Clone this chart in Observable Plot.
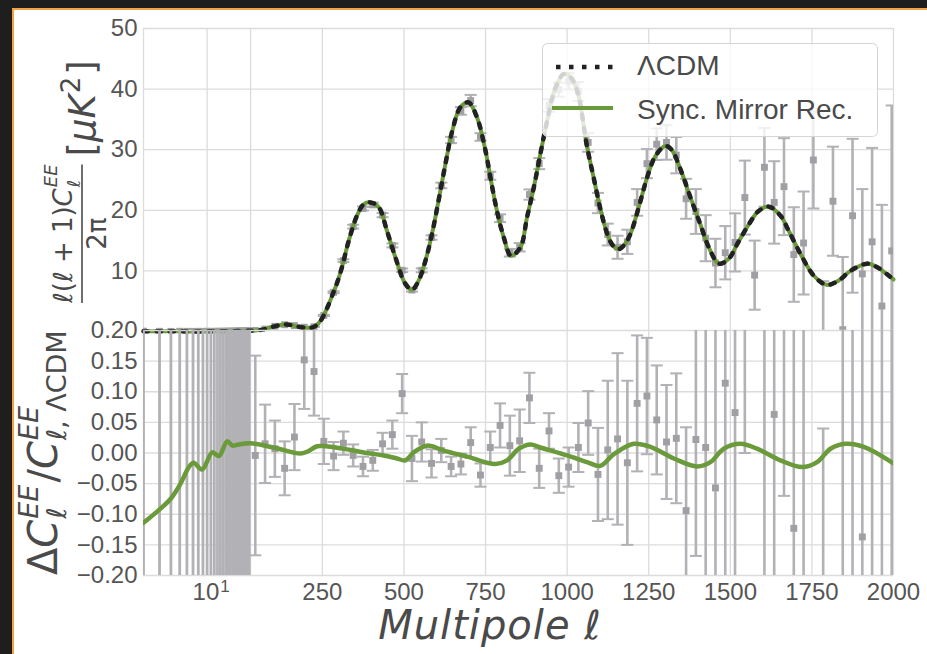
<!DOCTYPE html>
<html><head><meta charset="utf-8">
<script src="https://cdn.jsdelivr.net/npm/d3@7"></script>
<script src="https://cdn.jsdelivr.net/npm/@observablehq/plot@0.6"></script>
<style>
html,body{margin:0;padding:0;background:#1e1e1e;}
#page{position:relative;width:927px;height:654px;overflow:hidden;background:#1e1e1e;}
#card{position:absolute;left:12px;top:8px;right:0;bottom:0;background:#fff;border-left:2px solid #f2a444;border-top:2px solid #f2a444;}
.layer{position:absolute;left:0;}
#labels,#legend{position:absolute;overflow:visible;}
</style></head><body>
<div id="page">
<div id="card"></div>
<div id="topPanel" class="layer" style="top:0px"></div>
<div id="botPanel" class="layer" style="top:310px"></div>
<svg id="labels" width="927" height="654" style="left:0;top:0"></svg>
<svg id="legend" width="340" height="100" style="left:542px;top:43px"></svg>
</div>
<script>
// ---------------- data ----------------
// model curves (top panel): multipole and D_ell [muK^2]
const curveEll = [2,3,4,5,6,8,10,13,16,20,25,30,50,70,100,130,150,175,200,215,230,245,264,285,295,310,331,356,377,397,423,448,474,504,525,545,566,586,606,627,648,673,698,724,750,765,785,806,828,857,877,898,918,939,964,990,1010,1031,1061,1082,1102,1123,1140,1158,1175,1194,1225,1245,1271,1301,1320,1347,1378,1408,1434,1465,1495,1521,1557,1587,1618,1654,1679,1715,1756,1795,1832,1868,1919,1950,1986,2000];
const lcdmD = [0.04,0.04,0.03,0.03,0.02,0.02,0.02,0.03,0.04,0.06,0.09,0.12,0.2,0.35,0.8,1.15,1.1,0.8,0.6,0.6,0.95,1.8,3.8,6.6,8.0,10.6,15.0,19.1,21.0,21.3,20.5,16.6,12.2,7.9,6.9,8.4,11.7,16.1,21.6,27.6,33.1,37.0,37.8,35.3,29.8,25.4,19.9,15.5,12.5,13.9,18.8,23.8,29.3,34.8,40.2,42.5,42.0,39.7,30.5,25.2,20.2,16.1,14.2,13.6,14.3,16.1,21.6,25.4,29.0,30.6,30.0,26.8,22.1,17.7,13.9,11.2,12.0,14.4,17.7,19.9,20.6,19.1,16.6,12.8,9.2,7.7,8.4,10.0,11.2,10.6,9.2,8.6];
const mirrorD = [0.04,0.04,0.03,0.03,0.02,0.02,0.02,0.03,0.04,0.06,0.09,0.12,0.2,0.35,0.8,1.15,1.1,0.8,0.6,0.6,0.95,1.8,3.8,6.6,8.0,10.6,15.0,19.1,21.0,21.3,20.5,16.6,12.2,7.9,6.9,8.4,11.7,16.1,21.6,27.6,33.1,37.0,37.8,35.3,29.8,25.4,19.9,15.5,12.5,13.9,18.8,23.8,29.3,34.8,40.2,42.5,42.0,39.7,30.5,25.2,20.2,16.1,14.2,13.6,14.3,16.1,21.6,25.4,29.0,30.6,30.0,26.8,22.1,17.7,13.9,11.2,12.0,14.4,17.7,19.9,20.6,19.1,16.6,12.8,9.2,7.7,8.4,10.0,11.2,10.6,9.2,8.6];
// fractional difference of the mirror model (bottom panel)
const resEll = [2,2.9,3.96,5.1,6.3,7.1,8.8,11.4,13.5,16.6,19,21,25,30,100,183,203,234,259,315,387,438,479,504,530,571,622,694,780,816,852,888,918,1000,1061,1102,1143,1204,1255,1327,1398,1439,1480,1531,1582,1654,1720,1766,1807,1853,1909,2000];
const mirrorRes = [-0.114,-0.094,-0.075,-0.050,-0.023,-0.016,-0.027,0.001,-0.005,0.019,0.012,0.013,0.015,0.016,0.009,-0.001,0.002,0.011,0.011,0.007,0.0,-0.004,-0.009,-0.012,0.001,0.012,0.004,-0.006,-0.018,-0.012,0.007,0.014,0.009,-0.004,-0.015,-0.021,-0.002,0.015,0.010,-0.009,-0.022,-0.015,0.007,0.015,0.007,-0.012,-0.023,-0.015,0.007,0.015,0.010,-0.017];
// low-ell unbinned data points
const lowEll = [2,3,4,5,6,7,8,9,10,11,12,13,14,15,16,17,18,19,20,21,22,23,24,25,26,27,28,29];
const lowD = [0.05,0.03,0.02,0.04,0.03,0.02,0.03,0.02,0.04,0.03,0.02,0.05,0.03,0.04,0.06,0.05,0.04,0.07,0.06,0.08,0.07,0.09,0.08,0.10,0.09,0.11,0.10,0.12];
const lowDerr = [0.05,0.05,0.04,0.04,0.04,0.04,0.04,0.04,0.04,0.04,0.04,0.04,0.04,0.04,0.04,0.04,0.04,0.04,0.04,0.04,0.04,0.04,0.04,0.04,0.04,0.04,0.04,0.04];
const lowRes = [0.4,-0.3,0.6,-0.5,0.3,-0.4,0.5,-0.3,0.3,0.4,-0.35,0.3,-0.3,0.35,0.45,-0.3,0.3,0.25,-0.25,0.3,-0.3,0.35,0.25,-0.25,0.3,-0.28,0.26,0.3];
const lowResErr = [2.0,1.8,1.6,1.5,1.4,1.3,1.2,1.1,1.0,1.0,0.9,0.9,0.9,0.8,0.8,0.8,0.8,0.7,0.7,0.7,0.7,0.7,0.6,0.6,0.6,0.6,0.6,0.6];
// binned data points
const binEll = [44.5,74.5,104.5,134.5,164.5,194.5,224.5,254.5,284.5,314.5,344.5,374.5,404.5,434.5,464.5,494.5,524.5,554.5,584.5,614.5,644.5,674.5,704.5,734.5,764.5,794.5,824.5,854.5,884.5,914.5,944.5,974.5,1004.5,1034.5,1064.5,1094.5,1124.5,1154.5,1184.5,1214.5,1244.5,1274.5,1304.5,1334.5,1364.5,1394.5,1424.5,1454.5,1484.5,1514.5,1544.5,1574.5,1604.5,1634.5,1664.5,1694.5,1724.5,1754.5,1784.5,1814.5,1844.5,1874.5,1904.5,1934.5,1964.5,1994.5];
const binD = [0.18,0.40,0.86,1.12,0.97,0.71,0.79,2.65,6.47,11.7,17.3,20.3,20.9,19.2,14.2,10.1,6.84,10.1,15.5,24.1,31.6,36.4,38.1,32.1,25.7,18.7,13.0,13.9,22.6,27.7,37.3,39.9,41.3,39.6,31.2,21.2,16.0,13.9,14.8,21.3,27.7,30.9,31.2,29.1,21.9,19.8,15.4,11.3,13.0,14.7,22.1,9.3,27.1,21.3,23.9,12.7,14.6,28.3,-2.0,21.5,0.3,19.1,9.5,14.8,4.2,13.3];
const binDerr = [0.03,0.03,0.04,0.05,0.05,0.05,0.05,0.10,0.15,0.22,0.31,0.33,0.36,0.34,0.32,0.29,0.26,0.32,0.36,0.46,0.52,0.63,0.94,0.63,0.66,0.64,0.63,0.69,0.85,0.91,1.04,1.16,1.35,1.57,1.54,1.67,1.8,1.9,2.0,2.2,2.4,2.6,2.85,3.0,3.3,3.7,3.8,4.0,4.4,4.8,6.1,5.7,6.5,6.8,8.0,7.8,8.5,8.0,10.3,9.0,12.0,12.7,14.0,15.5,16.7,24.0];
const binRes = [-0.004,0.015,0.007,-0.025,0.026,0.152,0.133,0.019,-0.005,0.016,-0.004,-0.022,-0.012,0.015,0.030,0.097,-0.009,0.018,-0.017,0.004,-0.022,-0.018,0.017,-0.036,0.009,0.045,0.012,0.020,0.090,-0.025,0.036,-0.037,-0.023,0.009,0.049,-0.035,0.005,0.023,-0.016,0.081,0.093,0.054,0.018,0.024,-0.094,0.022,0.009,-0.057,0.114,0.066,0.34,-0.52,0.33,0.063,0.33,-0.123,0.22,2.1,-1.25,1.6,-0.97,0.95,-0.137,0.33,-0.59,0.48];
const binResErr = [0.163,0.064,0.046,0.044,0.054,0.08,0.072,0.037,0.023,0.019,0.018,0.016,0.017,0.018,0.023,0.032,0.037,0.032,0.023,0.019,0.016,0.017,0.025,0.019,0.026,0.036,0.049,0.051,0.041,0.032,0.029,0.028,0.032,0.040,0.052,0.076,0.113,0.140,0.134,0.111,0.095,0.089,0.093,0.106,0.136,0.19,0.25,0.33,0.38,0.35,0.34,0.29,0.6,0.34,0.40,0.53,0.7,0.87,1.29,1.1,1.38,1.3,1.26,1.4,1.6,2.7];
// ticks
const xTicks = [10,250,500,750,1000,1250,1500,1750,2000];
const yTicksTop = [10,20,30,40,50];
const yTicksBot = [-0.20,-0.15,-0.10,-0.05,0.00,0.05,0.10,0.15,0.20];
const xEdges = [2,30];

(function(){
// ---------------- build tables ----------------
const curve = curveEll.map((l,i)=>({ell:l, lcdm:lcdmD[i], mirror:mirrorD[i]}));
const resCurve = resEll.map((l,i)=>({ell:l, r:mirrorRes[i]}));
const bins = binEll.map((l,i)=>({ell:l, D:binD[i], e:binDerr[i], r:binRes[i], re:binResErr[i]}));
const lows = lowEll.map((l,i)=>({ell:l, D:lowD[i], e:lowDerr[i], r:lowRes[i], re:lowResErr[i]}));

// hybrid x scale: log for ell<30, linear beyond
const K = 328 / Math.log10(15);
const hx = l => l >= 30 ? l : 30 - (Math.log10(30) - Math.log10(l)) * K;

const capSymbol = {draw(ctx, size){ const w = Math.sqrt(size/Math.PI); ctx.moveTo(-w,0); ctx.lineTo(w,0); }};
const GRID = "#dcdcdc", BAR = "#b2b2b6", SQ = "#a0a0a4", GREEN = "#6a9a3a";
const font = "'Liberation Sans', Arial, sans-serif";
const common = {width:927, marginLeft:143, marginRight:34,
  style:{background:"transparent", overflow:"visible", fontFamily:font, fontSize:"24px", color:"#555"}};

function errMarks(data, yv, ev, clip) {
  return [
    Plot.ruleX(data, {x:"ell", y1:d=>d[yv]-d[ev], y2:d=>d[yv]+d[ev], stroke:BAR, strokeWidth:2.6, clip}),
    Plot.dot(data, {x:"ell", y:d=>d[yv]-d[ev], symbol:capSymbol, r:6, stroke:BAR, strokeWidth:2, fill:"none", clip}),
    Plot.dot(data, {x:"ell", y:d=>d[yv]+d[ev], symbol:capSymbol, r:6, stroke:BAR, strokeWidth:2, fill:"none", clip}),
    Plot.dot(data, {x:"ell", y:yv, symbol:"square", r:3.9, fill:SQ, stroke:"none", clip})
  ];
}

const topPlot = Plot.plot({...common, height:335, marginTop:28, marginBottom:4,
  x:{type:"linear", transform:hx, axis:null},
  y:{domain:[0,50], axis:null},
  marks:[
    Plot.gridX(xTicks, {stroke:GRID, strokeOpacity:1, strokeWidth:1.3}),
    Plot.gridY(yTicksTop, {stroke:GRID, strokeOpacity:1, strokeWidth:1.3}),
    Plot.ruleX(xEdges, {stroke:GRID, strokeWidth:1.3}),
    Plot.axisY(yTicksTop, {anchor:"left", tickSize:0, tickPadding:6, fontSize:24, label:null}),
    ...errMarks(lows, "D", "e", true),
    ...errMarks(bins, "D", "e", true),
    Plot.line(curve, {x:"ell", y:"mirror", stroke:GREEN, strokeWidth:4, curve:"catmull-rom"}),
    Plot.line(curve, {x:"ell", y:"lcdm", stroke:"#222", strokeWidth:4.5, strokeDasharray:"4.5,8.5", curve:"catmull-rom"})
  ]});
document.getElementById("topPanel").appendChild(topPlot);

const fmtY = d => d.toFixed(2).replace("-", "\u2212");
const botPlot = Plot.plot({...common, height:344, marginTop:20, marginBottom:79,
  x:{type:"linear", transform:hx, axis:null},
  y:{domain:[-0.2,0.2], axis:null},
  marks:[
    Plot.gridX(xTicks, {stroke:GRID, strokeOpacity:1, strokeWidth:1.3}),
    Plot.gridY(yTicksBot, {stroke:GRID, strokeOpacity:1, strokeWidth:1.3}),
    Plot.ruleX(xEdges, {stroke:GRID, strokeWidth:1.3}),
    Plot.ruleX(lows, {x:"ell", y1:d=>d.r-d.re, y2:d=>d.r+d.re, stroke:BAR, strokeWidth:2.8, clip:true}),
    ...errMarks(bins, "r", "re", true),
    Plot.line(resCurve, {x:"ell", y:"r", stroke:GREEN, strokeWidth:4.5, curve:"catmull-rom", clip:true}),
    Plot.axisY(yTicksBot, {anchor:"left", tickSize:0, tickPadding:6, fontSize:24, tickFormat:fmtY, label:null}),
    Plot.axisX(xTicks, {anchor:"bottom", tickSize:0, tickPadding:7, fontSize:24, tickFormat:d => d === 10 ? "10^1" : String(d), label:null})
  ]});
document.getElementById("botPanel").appendChild(botPlot);
// typeset the 10^1 tick as a real superscript
for (const t of botPlot.querySelectorAll("text")) {
  if (t.textContent === "10^1") {
    t.textContent = "10";
    const sp = document.createElementNS("http://www.w3.org/2000/svg", "tspan");
    sp.setAttribute("font-size", 17); sp.setAttribute("dy", "-0.45em"); sp.setAttribute("dx", "1");
    sp.textContent = "1"; t.appendChild(sp);
    t.setAttribute("dx", "4");
  }
}

// ---------------- labels ----------------
const NS = "http://www.w3.org/2000/svg";
function el(parent, name, attrs) { const e = document.createElementNS(NS, name); for (const k in attrs) e.setAttribute(k, attrs[k]); parent.appendChild(e); return e; }
function txt(parent, parts, x, y, size, anchor) {
  const t = el(parent, "text", {x, y, "font-size": size, "font-family": "'DejaVu Sans', sans-serif", fill: "#4a4a4a", "text-anchor": anchor || "start"});
  for (const [s, it] of parts) { const sp = el(t, "tspan", it ? {"font-style":"italic"} : {}); sp.textContent = s; }
  return t;
}
const W = t => t.getComputedTextLength();
const L = document.getElementById("labels");
// top y label
{
  const g = el(L, "g", {transform:"rotate(-90)"});
  const x0 = -303;
  const num = txt(g, [["\u2113(\u2113 + 1)", false], ["C", true]], x0, 72, 26);
  const nx = x0 + W(num) + 1;
  const sup = txt(g, [["EE", true]], nx, 57, 18);
  const sub = txt(g, [["\u2113", false]], nx, 80, 18);
  const wid = nx + Math.max(W(sup), W(sub)) - x0;
  el(g, "line", {x1:x0, x2:x0+wid, y1:82, y2:82, stroke:"#4a4a4a", "stroke-width":1.6});
  txt(g, [["2\u03c0", false]], x0 + wid/2, 106, 26, "middle");
  const ux = x0 + wid + 8;
  const u1 = txt(g, [["[", false], ["\u03bcK", true]], ux, 95, 37);
  const u2 = txt(g, [["2", false]], ux + W(u1) + 1, 80, 26);
  txt(g, [["]", false]], ux + W(u1) + W(u2) + 3, 95, 37);
}
// bottom y label
{
  const g = el(L, "g", {transform:"rotate(-90)"});
  let x = -575;
  const a = txt(g, [["\u0394", false], ["C", true]], x, 57, 40); x += W(a) + 1;
  const s1 = txt(g, [["EE", true]], x, 38, 27); const b1 = txt(g, [["\u2113", false]], x, 66, 27);
  x += Math.max(W(s1), W(b1)) + 2;
  const sl = txt(g, [["/", false]], x, 57, 40); x += W(sl);
  const c2 = txt(g, [["C", true]], x, 57, 40); x += W(c2) + 1;
  txt(g, [["EE", true]], x, 38, 27);
  txt(g, [["\u2113, \u039bCDM", false]], x, 66, 27);
}
// x label
const xl = txt(L, [["Multipole \u2113", true]], 490, 639, 40, "middle");
xl.setAttribute("letter-spacing", "1");

// ---------------- legend ----------------
const G = document.getElementById("legend");
el(G, "rect", {x:0.5, y:0.5, width:335, height:93, rx:5, fill:"#fff", "fill-opacity":0.8, stroke:"#d4d4d4"});
el(G, "line", {x1:14, x2:72, y1:24, y2:24, stroke:"#222", "stroke-width":4.5, "stroke-dasharray":"4.5,8.5"});
el(G, "line", {x1:10, x2:71, y1:65, y2:65, stroke:GREEN, "stroke-width":4});
const lt = (s, y) => { const t = el(G, "text", {x:95, y, "font-size":28, "font-family":font, fill:"#4a4a4a"}); t.textContent = s; };
lt("\u039bCDM", 32);
lt("Sync. Mirror Rec.", 76);
})();
</script>
</body></html>
